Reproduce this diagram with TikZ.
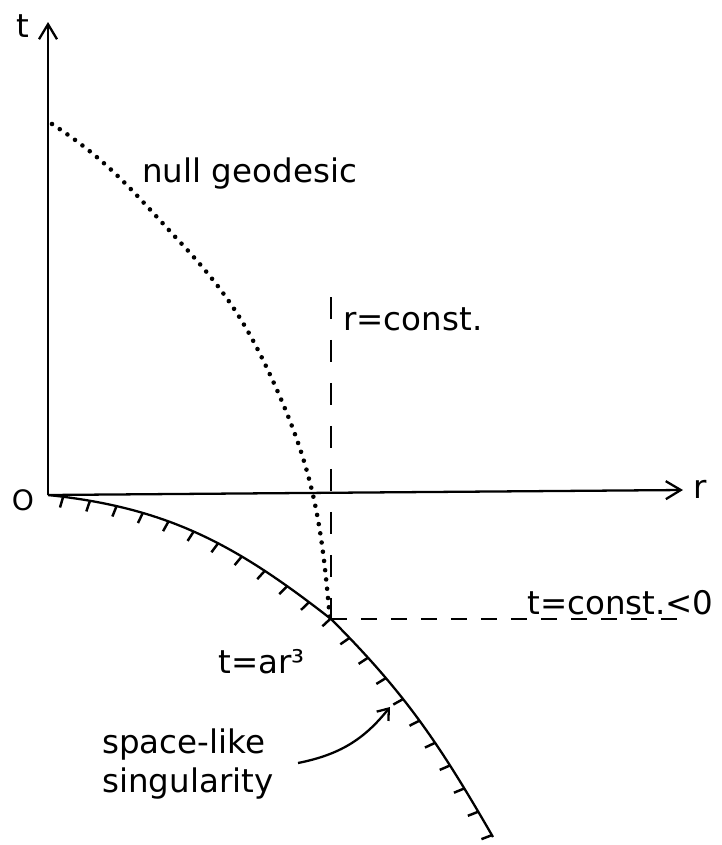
\documentclass[tikz,border=0pt]{standalone}
\usepackage{fontspec}
\setmainfont{DejaVu Sans}
\usetikzlibrary{arrows.meta,decorations.markings}

\tikzset{
  axis/.style={line width=1.3pt, -{Straight Barb[length=0.3cm,width=0.36cm]}},
  lbl/.style={font=\fontsize{18.5}{22.2}\selectfont, inner sep=0pt},
  singcurve/.style={line width=1.3pt, postaction={decorate},
    decoration={markings, mark=between positions 0.026 and 1 step 0.0462 with {\draw[line width=1.4pt] (0pt,0pt) -- (-1pt,-6.3pt);}}},
  nullgeo/.style={line width=2.6pt, line cap=round, dash pattern=on 0pt off 5.3pt},
  rconst/.style={line width=1.3pt, dash pattern=on 0.44cm off 0.42cm},
  tconst/.style={line width=1.3pt, dash pattern=on 0.32cm off 0.28cm},
}

\begin{document}
\begin{tikzpicture}[x=0.02cm, y=0.02cm]
    \useasboundingbox (0,0) rectangle (722,-845);

    % Achsen
    \coordinate (O) at (48,-495);
    \coordinate (ttip) at (48,-22);
    \coordinate (rtip) at (683,-490);
    \draw[axis] (O) -- (ttip);
    \draw[axis] (O) -- (rtip);
    \node[lbl] (tlab) at (23,-26) {t};
    \node[lbl] (rlab) at (700,-489) {r};
    \node[lbl, font=\fontsize{16}{18}\selectfont] (olab) at (23,-500) {O};

    % Nullgeodaete
    \draw[nullgeo] (52,-124) to[out=-33,in=133] (180,-242) to[out=-47,in=114] (277,-390)
        to[out=-66,in=95] (330,-620);
    \node[lbl, anchor=base west] (geolab) at (142,-182) {null geodesic};

    % r = const. und t = const.
    \coordinate (top) at (331,-297);
    \coordinate (X) at (331,-619);
    \coordinate (tend) at (677,-619);
    \draw[rconst] (top) -- (X);
    \draw[tconst] (X) -- (tend);
    \node[lbl, anchor=base west] (rconstlab) at (343,-330) {r=const.};
    \node[lbl, anchor=base west] (tconstlab) at (527,-614) {t=const.<0};

    % Singularitaet t = a r^3
    \draw[singcurve] (O) to[out=-6,in=142] (X) to[out=-45,in=120] (493,-837);
    \node[lbl, anchor=base west] (curvelab) at (218,-673) {t=ar³};

    % Beschriftung mit Pfeil
    \node[lbl, anchor=west, align=left] (singlab) at (102,-764) {space-like\\singularity};
    \coordinate (sarr) at (298,-763);
    \coordinate (earr) at (390,-707);
    \draw[line width=1.3pt, -{Straight Barb[length=0.2cm,width=0.3cm]}] (sarr) to[bend right=20] (earr);
\end{tikzpicture}
\end{document}
